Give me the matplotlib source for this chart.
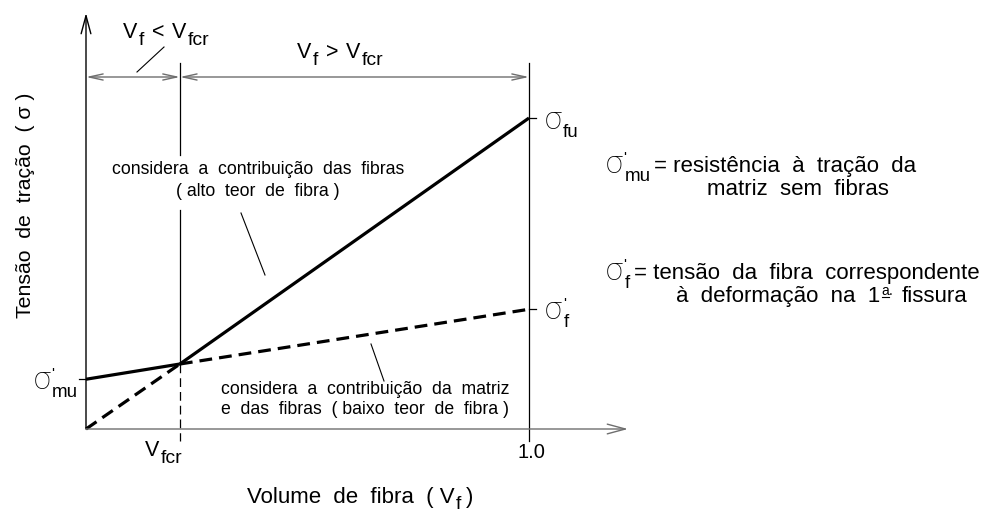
import matplotlib
matplotlib.use("Agg")
import matplotlib.pyplot as plt
from matplotlib.lines import Line2D
from matplotlib.transforms import IdentityTransform

plt.rcParams["font.family"] = ["Liberation Sans", "DejaVu Sans"]

# Fibre volume fraction (abscissa) and stresses normalised by sigma_fu
vf_ticks = [0.0, 0.212, 1.0]          # 0, Vfcr, 1.0
vfcr = vf_ticks[1]
sigma_fu = 1.0
sigma_mu = 0.16
sigma_f = 0.385
sigma_cr = 0.209                      # stress where both laws meet at Vfcr

# High fibre content: composite governed by the fibres (0 -> sigma_fu)
high_vf = [0.0, vfcr, 1.0]
high_sigma = [0.0, sigma_cr, sigma_fu]
# Low fibre content: matrix + fibres (sigma_mu -> sigma_f)
low_vf = [0.0, vfcr, 1.0]
low_sigma = [sigma_mu, sigma_cr, sigma_f]

W, H = 992, 514
fig = plt.figure(figsize=(W / 100, H / 100), dpi=100)
ax = fig.add_axes([0, 0, 1, 1])
ax.axis("off")

# drawing frame in pixels: Vf=0 at x=86, Vf=1 at x=529; sigma=0 at y=429, sigma_fu at y=118
X0, X1, Y0, Y1 = 86, 529, 429, 118


def P(x, y):
    return ((x - X0) / (X1 - X0), (Y0 - y) / (Y0 - Y1))


ax.set_xlim(P(0, 0)[0], P(W, 0)[0])
ax.set_ylim(P(0, H)[1], P(0, 0)[1])

K = "black"
G = "#6e6e6e"

# axes with open arrow heads
ax.annotate("", xy=P(86, 13), xytext=(0, 0),
            arrowprops=dict(arrowstyle="->,head_length=1.3,head_width=0.35",
                            lw=1.0, color=K, shrinkA=0, shrinkB=0))
ax.annotate("", xy=P(628, Y0), xytext=(0, 0),
            arrowprops=dict(arrowstyle="->,head_length=1.3,head_width=0.35",
                            lw=1.0, color=G, shrinkA=0, shrinkB=0))

# vertical guide at Vfcr (solid above the knee, dashed below, break for text)
top = P(0, 63)[1]
below = P(0, 441)[1]
ax.plot([vfcr, vfcr], [top, P(0, 155)[1]], color=K, lw=0.9)
ax.plot([vfcr, vfcr], [P(0, 210)[1], sigma_cr], color=K, lw=0.9)
ax.plot([vfcr, vfcr], [sigma_cr, below], color=K, lw=0.9, dashes=(7, 4))
# vertical guide at Vf = 1.0
ax.plot([1.0, 1.0], [top, below], color=K, lw=0.9)

# small ticks at stress levels
tk = 7 / (X1 - X0)
ax.plot([1.0, 1.0 + tk], [sigma_fu, sigma_fu], color=K, lw=0.9)
ax.plot([1.0, 1.0 + tk], [sigma_f, sigma_f], color=K, lw=0.9)
ax.plot([0.0, -tk], [sigma_mu, sigma_mu], color=K, lw=0.9)

# the two laws
lw = 2.3
ax.plot(high_vf[:2], high_sigma[:2], color=K, lw=lw, dashes=(4, 2.2))
ax.plot(high_vf[1:], high_sigma[1:], color=K, lw=lw, solid_capstyle="butt")
ax.plot(low_vf[:2], low_sigma[:2], color=K, lw=lw, solid_capstyle="butt")
ax.plot(low_vf[1:], low_sigma[1:], color=K, lw=lw, dashes=(4, 2.2))

# dimension line with open arrow heads
yd = P(0, 77)[1]
dim = dict(arrowstyle="<->,head_length=1.0,head_width=0.22", lw=1.0,
           color=G, shrinkA=0, shrinkB=0)
ax.annotate("", xy=(vfcr, yd), xytext=(0.0, yd), arrowprops=dim)
ax.annotate("", xy=(1.0, yd), xytext=(vfcr, yd), arrowprops=dim)

# leader lines
for (xa, ya), (xb, yb) in [((137, 72), (164, 47)),
                           ((241, 213), (265, 275)),
                           ((371, 344), (384, 381))]:
    a, b = P(xa, ya), P(xb, yb)
    ax.plot([a[0], b[0]], [a[1], b[1]], color=K, lw=0.8)


def T(x, y, s, size=12, **kw):
    kw.setdefault("ha", "center")
    kw.setdefault("va", "center")
    ax.text(*P(x, y), s, fontsize=size, color=K, **kw)


# ---- composed labels (base text, primes and large subscripts) ----
fig.canvas.draw()
renderer = fig.canvas.get_renderer()
SIG_FONT = dict(family=["Roboto", "Liberation Sans", "DejaVu Sans"], fontweight="light")


def compose(x, y, parts, ha="left"):
    """parts: (text, size, drop_px, gap_px, advance, fontkw); y is the baseline."""
    items = []
    for s, size, drop, gap, adv, fkw in parts:
        t = fig.text(0, 0, s, fontsize=size, color=K, ha="left", va="baseline",
                     transform=IdentityTransform(), **fkw)
        w = t.get_window_extent(renderer).width
        items.append([t, drop, gap, adv, w, 0.0])
    total = 0
    for t, drop, gap, adv, w, _ in items:
        total += gap + (w if adv else 0)
    x0 = x - {"left": 0, "center": total / 2, "right": total}[ha]
    for it in items:
        t, drop, gap, adv, w, _ = it
        x0 += gap
        t.set_position((x0, H - y - drop))
        it[5] = x0
        if adv:
            x0 += w
    return items


def sigma_label(x, y, sub, prime, ha="left", sub_size=13.5):
    parts = [("σ", 22, 0, 0, True, SIG_FONT)]
    if prime:
        parts.append(("'", 11, -11, 1, False, {}))
    parts.append((sub, sub_size, 8, 1, True, {}))
    compose(x, y, parts, ha)


def v_label(x, y, sub, size=15.5, ha="left", tail=None):
    parts = [("V", size, 0, 0, True, {}), (sub, size * 0.9, 7, 1, True, {})]
    if tail:
        parts += tail
    compose(x, y, parts, ha)


# dimension captions
v_label(123, 38, "f", tail=[("<", 15.5, 0, 8, True, {}), ("V", 15.5, 0, 8, True, {}),
                            ("fcr", 15.5 * 0.9, 7, 1, True, {})])
v_label(297, 58, "f", tail=[(">", 15.5, 0, 8, True, {}), ("V", 15.5, 0, 8, True, {}),
                            ("fcr", 15.5 * 0.9, 7, 1, True, {})])

# stress levels on the chart
sigma_label(545, 129, "fu", prime=False)
sigma_label(545, 319, "f", prime=True)
sigma_label(78, 389, "mu", prime=True, ha="right")

# notes on the two laws
T(258, 170, "considera  a  contribuição  das  fibras", 12.7)
T(258, 192, "( alto  teor  de  fibra )", 12.7)
T(221, 389, "considera  a  contribuição  da  matriz", 12.7, ha="left")
T(221, 410, "e  das  fibras  ( baixo  teor  de  fibra )", 12.7, ha="left")

# legend of symbols
sigma_label(606, 173, "mu", prime=True)
ax.text(*P(654, 172), "= resistência  à  tração  da", fontsize=16, ha="left", va="baseline")
ax.text(*P(798, 195), "matriz  sem  fibras", fontsize=16, ha="center", va="baseline")
sigma_label(606, 280, "f", prime=True)
ax.text(*P(634, 279), "= tensão  da  fibra  correspondente", fontsize=16, ha="left", va="baseline")
note = compose(822, 302, [("à  deformação  na  1", 16, 0, 0, True, {}),
                          ("a", 10, -7, 1, True, {}),
                          (".", 10, -7, 0, True, {}),
                          ("fissura", 16, 0, 9, True, {})], ha="center")
# underline of the ordinal indicator
ord_t, ord_w = note[1][0], note[1][4]
ox = note[1][5]
oy = H - 302 + 5
fig.add_artist(Line2D([ox, ox + ord_w], [oy, oy], color=K, lw=0.8,
                      transform=IdentityTransform()))

# abscissa marks and titles
v_label(145, 456, "fcr", size=15.5)
T(531, 453, "1.0", 14.5)
compose(360, 503, [("Volume  de  fibra  ( V", 16, 0, 0, True, {}),
                   ("f", 14, 6, 1, True, {}), (")", 16, 0, 5, True, {})], ha="center")
T(26, 205, "Tensão  de  tração  ( σ )", 15.3, rotation=90)

fig.savefig("out.png", dpi=100)
